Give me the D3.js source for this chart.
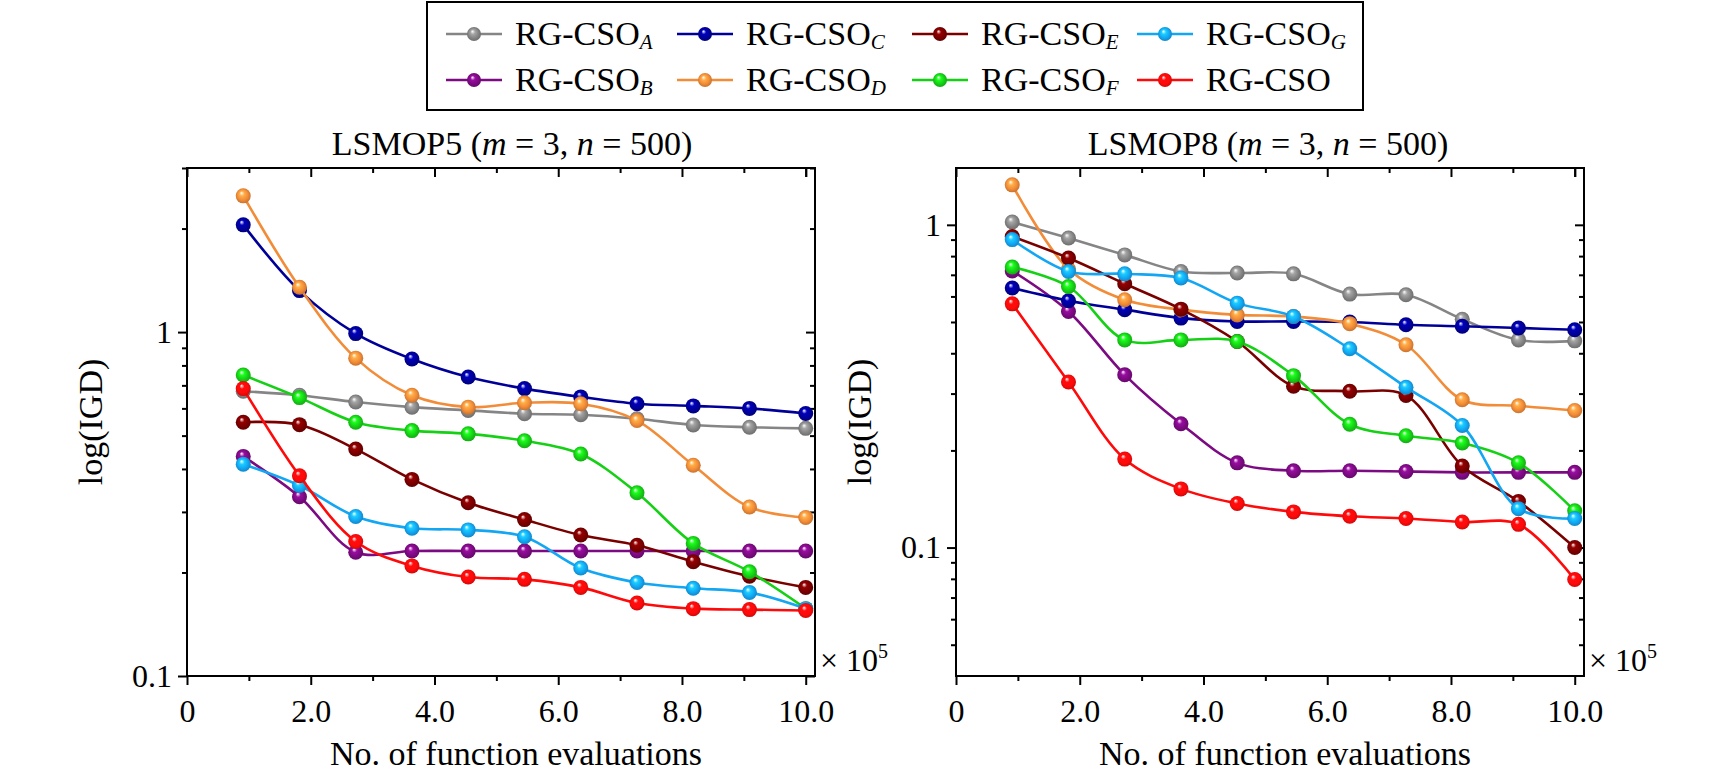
<!DOCTYPE html>
<html>
<head>
<meta charset="utf-8">
<script src="https://cdn.jsdelivr.net/npm/d3@7/dist/d3.min.js"></script>
<style>
	body { margin: 0; background: #fff; }
	svg text { font-family: "Liberation Serif", "Times New Roman", serif; fill: #000; }
</style>
</head>
<body>
<svg id="chart" width="1732" height="777"></svg>
<script>
// function evaluations (x 10^5) at which IGD was recorded
const evals = [0.909, 1.818, 2.727, 3.636, 4.545, 5.455, 6.364, 7.273, 8.182, 9.091, 10.0];

const seriesSubs = ["A", "B", "C", "D", "E", "F", "G", ""];
const seriesColors = ["#858585", "#7c0a82", "#000099", "#f28c38", "#7a0000", "#16d016", "#13a6f3", "#ff0a0a"];

// LSMOP5 (m = 3, n = 500)
const lsmop5A = [0.673, 0.655, 0.626, 0.605, 0.592, 0.579, 0.575, 0.560, 0.537, 0.529, 0.525];
const lsmop5B = [0.435, 0.332, 0.229, 0.231, 0.231, 0.231, 0.231, 0.231, 0.231, 0.231, 0.231];
const lsmop5C = [2.05, 1.32, 0.99, 0.835, 0.74, 0.685, 0.648, 0.619, 0.61, 0.60, 0.58];
const lsmop5D = [2.49, 1.35, 0.84, 0.655, 0.605, 0.623, 0.619, 0.553, 0.41, 0.31, 0.289];
const lsmop5E = [0.547, 0.538, 0.457, 0.373, 0.319, 0.285, 0.257, 0.24, 0.215, 0.195, 0.181];
const lsmop5F = [0.75, 0.645, 0.547, 0.517, 0.506, 0.483, 0.442, 0.341, 0.243, 0.201, 0.157];
const lsmop5G = [0.413, 0.358, 0.291, 0.269, 0.266, 0.254, 0.206, 0.187, 0.18, 0.175, 0.157];
const lsmop5R = [0.685, 0.382, 0.246, 0.209, 0.194, 0.191, 0.181, 0.163, 0.157, 0.156, 0.155];

// LSMOP8 (m = 3, n = 500)
const lsmop8A = [1.02, 0.91, 0.807, 0.717, 0.709, 0.705, 0.61, 0.607, 0.51, 0.44, 0.437];
const lsmop8B = [0.72, 0.539, 0.343, 0.242, 0.183, 0.173, 0.173, 0.172, 0.171, 0.171, 0.171];
const lsmop8C = [0.637, 0.582, 0.546, 0.514, 0.502, 0.502, 0.5, 0.49, 0.485, 0.479, 0.473];
const lsmop8D = [1.33, 0.73, 0.586, 0.546, 0.526, 0.52, 0.494, 0.425, 0.287, 0.275, 0.266];
const lsmop8E = [0.92, 0.789, 0.657, 0.548, 0.435, 0.316, 0.305, 0.296, 0.179, 0.139, 0.1];
const lsmop8F = [0.74, 0.644, 0.44, 0.44, 0.435, 0.341, 0.241, 0.222, 0.211, 0.183, 0.13];
const lsmop8G = [0.90, 0.717, 0.705, 0.684, 0.572, 0.52, 0.413, 0.314, 0.239, 0.132, 0.123];
const lsmop8R = [0.569, 0.326, 0.188, 0.152, 0.137, 0.129, 0.125, 0.123, 0.12, 0.118, 0.0796];

const xMajorTicks = [0, 2, 4, 6, 8, 10];
const xMinorTicks = [1, 3, 5, 7, 9];
const xTickLabels = ["0", "2.0", "4.0", "6.0", "8.0", "10.0"];
const yMajorTicks = [0.1, 1];
const yTickLabels = ["0.1", "1"];
const yMinor5 = [0.2, 0.3, 0.4, 0.5, 0.6, 0.7, 0.8, 0.9, 2, 3];
const yMinor8 = [0.05, 0.06, 0.07, 0.08, 0.09, 0.2, 0.3, 0.4, 0.5, 0.6, 0.7, 0.8, 0.9];

const svg = d3.select("#chart");
const defs = svg.append("defs");

// shaded ball markers
seriesColors.forEach(function(c, i) {
	let grad = defs.append("radialGradient")
		.attr("id", "ball" + i)
		.attr("cx", 0.5).attr("cy", 0.5).attr("r", 0.55)
		.attr("fx", 0.38).attr("fy", 0.3);
	grad.append("stop").attr("offset", "0%").attr("stop-color", "#ffffff");
	grad.append("stop").attr("offset", "30%").attr("stop-color", d3.color(c).brighter(0.6));
	grad.append("stop").attr("offset", "65%").attr("stop-color", c);
	grad.append("stop").attr("offset", "100%").attr("stop-color", d3.color(c).darker(0.7));
});

function styleAxis(g) {
	g.select(".domain").remove();
	g.attr("font-family", null).attr("font-size", null);
	g.selectAll("line").attr("stroke", "#000").attr("stroke-width", 2);
	g.selectAll("text").style("font-size", "32px");
}

function drawPanel(cfg) {
	const x = d3.scaleLinear().domain([0, 10.15]).range(cfg.xRange);
	const y = d3.scaleLog().domain(cfg.yDomain).range([676, 168]);
	const g = svg.append("g");
	const [left, right] = cfg.xRange;

	// bottom axis (outward ticks, labelled)
	g.append("g").attr("transform", "translate(0,676)")
		.call(d3.axisBottom(x).tickValues(xMajorTicks).tickSizeInner(9).tickSizeOuter(0)
			.tickPadding(14).tickFormat((d, i) => xTickLabels[i]))
		.call(styleAxis);
	g.append("g").attr("transform", "translate(0,676)")
		.call(d3.axisBottom(x).tickValues(xMinorTicks).tickSizeInner(5).tickSizeOuter(0).tickFormat(""))
		.call(styleAxis);
	// top axis (inward ticks)
	g.append("g").attr("transform", "translate(0,168)")
		.call(d3.axisTop(x).tickValues(xMajorTicks.concat([10])).tickSizeInner(-9).tickSizeOuter(0).tickFormat(""))
		.call(styleAxis);
	g.append("g").attr("transform", "translate(0,168)")
		.call(d3.axisTop(x).tickValues(xMinorTicks).tickSizeInner(-5).tickSizeOuter(0).tickFormat(""))
		.call(styleAxis);
	// left axis (outward ticks, labelled)
	g.append("g").attr("transform", `translate(${left},0)`)
		.call(d3.axisLeft(y).tickValues(yMajorTicks).tickSizeInner(9).tickSizeOuter(0)
			.tickPadding(6).tickFormat((d, i) => yTickLabels[i]))
		.call(styleAxis);
	g.append("g").attr("transform", `translate(${left},0)`)
		.call(d3.axisLeft(y).tickValues(cfg.yMinor).tickSizeInner(5).tickSizeOuter(0).tickFormat(""))
		.call(styleAxis);
	// right axis (inward ticks)
	g.append("g").attr("transform", `translate(${right},0)`)
		.call(d3.axisRight(y).tickValues(yMajorTicks).tickSizeInner(-9).tickSizeOuter(0).tickFormat(""))
		.call(styleAxis);
	g.append("g").attr("transform", `translate(${right},0)`)
		.call(d3.axisRight(y).tickValues(cfg.yMinor).tickSizeInner(-5).tickSizeOuter(0).tickFormat(""))
		.call(styleAxis);

	g.append("rect")
		.attr("x", left).attr("y", 168)
		.attr("width", right - left).attr("height", 676 - 168)
		.attr("fill", "none").attr("stroke", "#000").attr("stroke-width", 2);

	const line = d3.line()
		.x((d, i) => x(evals[i]))
		.y(d => y(d))
		.curve(d3.curveCatmullRom.alpha(0.5));

	cfg.series.forEach(function(vals, s) {
		let sg = g.append("g");
		sg.append("path")
			.attr("d", line(vals))
			.attr("fill", "none")
			.attr("stroke", seriesColors[s])
			.attr("stroke-width", 2.6);
		sg.selectAll("circle")
			.data(vals)
			.enter()
			.append("circle")
			.attr("cx", (d, i) => x(evals[i]))
			.attr("cy", d => y(d))
			.attr("r", 7.5)
			.attr("fill", `url(#ball${s})`);
	});

	// title
	let t = g.append("text")
		.attr("x", cfg.titleX).attr("y", 155)
		.attr("text-anchor", "middle")
		.style("font-size", "34px");
	t.append("tspan").text(cfg.name + " (");
	t.append("tspan").style("font-style", "italic").text("m");
	t.append("tspan").text(" = 3, ");
	t.append("tspan").style("font-style", "italic").text("n");
	t.append("tspan").text(" = 500)");

	// axis titles
	g.append("text")
		.attr("x", (left + right) / 2 + 15).attr("y", 765)
		.attr("text-anchor", "middle")
		.style("font-size", "34px")
		.text("No. of function evaluations");
	g.append("text")
		.attr("transform", `translate(${left - 85},422) rotate(-90)`)
		.attr("text-anchor", "middle")
		.style("font-size", "34px")
		.text("log(IGD)");

	let m = g.append("text")
		.attr("x", right + 5).attr("y", 671)
		.style("font-size", "32px");
	m.append("tspan").text("\u00d7 10");
	m.append("tspan").attr("dy", -13).style("font-size", "20px").text("5");
}

drawPanel({
	name: "LSMOP5",
	xRange: [187, 815],
	yDomain: [0.1, 3.0],
	yMinor: yMinor5,
	titleX: 512,
	series: [lsmop5A, lsmop5B, lsmop5C, lsmop5D, lsmop5E, lsmop5F, lsmop5G, lsmop5R]
});

drawPanel({
	name: "LSMOP8",
	xRange: [956, 1584],
	yDomain: [0.04, 1.5],
	yMinor: yMinor8,
	titleX: 1268,
	series: [lsmop8A, lsmop8B, lsmop8C, lsmop8D, lsmop8E, lsmop8F, lsmop8G, lsmop8R]
});

// legend: two rows, columns A/B, C/D, E/F, G/RG-CSO
const legendColX = [446, 677, 912, 1137];
const legendRowY = [34, 80];
const legend = svg.append("g");
legend.append("rect")
	.attr("x", 427).attr("y", 2).attr("width", 936).attr("height", 108)
	.attr("fill", "#fff").attr("stroke", "#000").attr("stroke-width", 2);

seriesSubs.forEach(function(sub, i) {
	let lx = legendColX[Math.floor(i / 2)];
	let ly = legendRowY[i % 2];
	legend.append("line")
		.attr("x1", lx).attr("x2", lx + 56)
		.attr("y1", ly).attr("y2", ly)
		.attr("stroke", seriesColors[i]).attr("stroke-width", 2.6);
	legend.append("circle")
		.attr("cx", lx + 28).attr("cy", ly).attr("r", 7)
		.attr("fill", `url(#ball${i})`);
	let txt = legend.append("text")
		.attr("x", lx + 69).attr("y", ly + 11)
		.style("font-size", "34px");
	txt.append("tspan").text("RG-CSO");
	if (sub) {
		txt.append("tspan")
			.attr("dy", 4)
			.style("font-size", "21px")
			.style("font-style", "italic")
			.text(sub);
	}
});
</script>
</body>
</html>
